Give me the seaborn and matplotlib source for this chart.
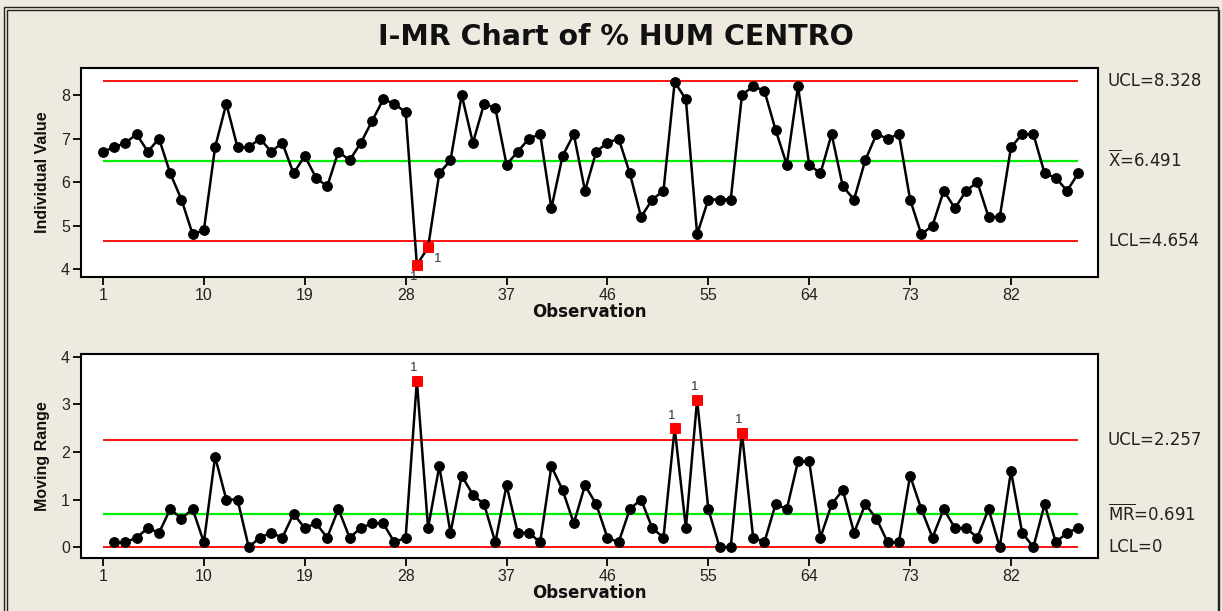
import numpy as np
import pandas as pd
import matplotlib
matplotlib.use('Agg')
import matplotlib.pyplot as plt
import matplotlib.transforms as mtransforms
from matplotlib.patches import Rectangle
import seaborn as sns

individual = [
    6.7, 6.8, 6.9, 7.1, 6.7, 7.0, 6.2, 5.6, 4.8, 4.9,
    6.8, 7.8, 6.8, 6.8, 7.0, 6.7, 6.9, 6.2, 6.6, 6.1,
    5.9, 6.7, 6.5, 6.9, 7.4, 7.9, 7.8, 7.6, 4.1, 4.5,
    6.2, 6.5, 8.0, 6.9, 7.8, 7.7, 6.4, 6.7, 7.0, 7.1,
    5.4, 6.6, 7.1, 5.8, 6.7, 6.9, 7.0, 6.2, 5.2, 5.6,
    5.8, 8.3, 7.9, 4.8, 5.6, 5.6, 5.6, 8.0, 8.2, 8.1,
    7.2, 6.4, 8.2, 6.4, 6.2, 7.1, 5.9, 5.6, 6.5, 7.1,
    7.0, 7.1, 5.6, 4.8, 5.0, 5.8, 5.4, 5.8, 6.0, 5.2,
    5.2, 6.8, 7.1, 7.1, 6.2, 6.1, 5.8, 6.2,
]

moving_range = [
    0.1, 0.1, 0.2, 0.4, 0.3, 0.8, 0.6, 0.8, 0.1,
    1.9, 1.0, 1.0, 0.0, 0.2, 0.3, 0.2, 0.7, 0.4, 0.5,
    0.2, 0.8, 0.2, 0.4, 0.5, 0.5, 0.1, 0.2, 3.5, 0.4,
    1.7, 0.3, 1.5, 1.1, 0.9, 0.1, 1.3, 0.3, 0.3, 0.1,
    1.7, 1.2, 0.5, 1.3, 0.9, 0.2, 0.1, 0.8, 1.0, 0.4,
    0.2, 2.5, 0.4, 3.1, 0.8, 0.0, 0.0, 2.4, 0.2, 0.1,
    0.9, 0.8, 1.8, 1.8, 0.2, 0.9, 1.2, 0.3, 0.9, 0.6,
    0.1, 0.1, 1.5, 0.8, 0.2, 0.8, 0.4, 0.4, 0.2, 0.8,
    0.0, 1.6, 0.3, 0.0, 0.9, 0.1, 0.3, 0.4,
]

# Control limits shown on the chart
i_ucl, i_center, i_lcl = 8.328, 6.491, 4.654
mr_ucl, mr_center, mr_lcl = 2.257, 0.691, 0.0

# Points flagged by test 1
i_flagged = [29, 30]
mr_flagged = [29, 52, 54, 58]

x_ticks = [1, 10, 19, 28, 37, 46, 55, 64, 73, 82]
i_yticks = [4, 5, 6, 7, 8]
mr_yticks = [0, 1, 2, 3, 4]

BG = '#EEEAE0'

i_df = pd.DataFrame({'obs': np.arange(1, len(individual) + 1), 'value': individual})
mr_df = pd.DataFrame({'obs': np.arange(2, len(moving_range) + 2), 'value': moving_range})

sns.set_theme(style='white')
plt.rcParams['font.family'] = ['Liberation Sans', 'DejaVu Sans']
plt.rcParams['mathtext.fontset'] = 'dejavusans'

fig = plt.figure(figsize=(12.22, 6.11), dpi=100, facecolor=BG)
ax1 = fig.add_axes([0.0663, 0.5466, 0.8322, 0.3421])
ax2 = fig.add_axes([0.0663, 0.0867, 0.8322, 0.3339])

# figure frame (double line)
fig.patches.append(Rectangle((0.003, -0.02), 0.994, 1.008, transform=fig.transFigure,
                             fill=False, edgecolor='#222222', lw=1.0))
fig.patches.append(Rectangle((0.0058, -0.02), 0.9915, 1.003, transform=fig.transFigure,
                             fill=False, edgecolor='#222222', lw=1.0))

fig.text(0.504, 0.940, 'I-MR Chart of % HUM CENTRO', ha='center', va='center',
         fontsize=20.5, fontweight='bold', color='#111111', family='DejaVu Sans')


def draw_panel(ax, df, flagged, ucl, center, lcl, ylim, yticks, ylabel, labels, flag_offsets):
    last = len(individual)
    ax.set_facecolor('white')
    ax.hlines([ucl, lcl], 1, last, colors='#FF0000', lw=1.3, zorder=1)
    ax.hlines(center, 1, last, colors='#00EE00', lw=1.6, zorder=1)
    sns.lineplot(data=df, x='obs', y='value', ax=ax, color='black', lw=1.8,
                 marker='o', markersize=7, markeredgecolor='black', zorder=3)
    flag_df = df[df['obs'].isin(flagged)]
    sns.scatterplot(data=flag_df, x='obs', y='value', ax=ax, color='#FF0000', marker='s',
                    s=60, edgecolor='#FF0000', zorder=4, legend=False)
    for (_, row), (dx, dy) in zip(flag_df.iterrows(), flag_offsets):
        ax.annotate('1', (row['obs'], row['value']), xytext=(dx, dy), textcoords='offset points',
                    ha='center', va='center', fontsize=9.5, color='#333333')
    ax.set_xlim(-0.96, 89.76)
    ax.set_ylim(*ylim)
    ax.set_xticks(x_ticks)
    ax.set_yticks(yticks)
    ax.tick_params(axis='both', direction='out', length=6, width=1.3, color='black',
                   labelsize=11.5, labelcolor='#222222', bottom=True, left=True, pad=2)
    for sp in ax.spines.values():
        sp.set_color('black')
        sp.set_linewidth(1.5)
    ax.set_xlabel('Observation', fontsize=12, fontweight='bold', labelpad=0,
                  color='#111111', family='DejaVu Sans')
    ax.set_ylabel(ylabel, fontsize=11.5, fontweight='bold', labelpad=8, color='#111111')
    trans = mtransforms.blended_transform_factory(ax.transAxes, ax.transData)
    for yv, txt in zip([ucl, center, lcl], labels):
        ax.text(1.0098, yv, txt, transform=trans, ha='left', va='center',
                fontsize=12, color='#222222', family='DejaVu Sans')


draw_panel(ax1, i_df, i_flagged, i_ucl, i_center, i_lcl, (3.82, 8.62), i_yticks,
           'Individual Value',
           ['UCL=8.328', r'$\overline{\mathrm{X}}$=6.491', 'LCL=4.654'],
           [(-2, -9), (7, -8)])
draw_panel(ax2, mr_df, mr_flagged, mr_ucl, mr_center, mr_lcl, (-0.23, 4.06), mr_yticks,
           'Moving Range',
           ['UCL=2.257', r'$\overline{\mathrm{MR}}$=0.691', 'LCL=0'],
           [(-2, 9), (-2, 9), (-2, 9), (-2, 9)])

fig.savefig('out.png', dpi=100, facecolor=BG)
